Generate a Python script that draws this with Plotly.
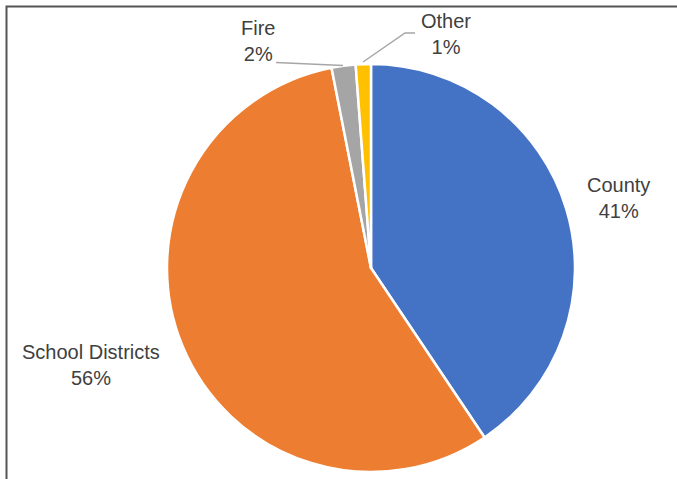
import plotly.graph_objects as go

labels = ["County", "School Districts", "Fire", "Other"]
values = [40.6, 56.3, 1.9, 1.2]
colors = ["#4472C4", "#ED7D31", "#A5A5A5", "#FFC000"]

W, H = 677, 479
total = sum(values)
pcts = [f"{round(v / total * 100)}%" for v in values]

fig = go.Figure(go.Pie(
    labels=labels, values=values, sort=False, direction="clockwise", rotation=0,
    marker=dict(colors=colors, line=dict(color="white", width=2.5)),
    textinfo="none", hoverinfo="label+percent",
    domain=dict(x=[(371 - 204) / W, (371 + 204) / W], y=[(479 - 472) / H, (479 - 64) / H]),
    showlegend=False,
))

# label positions in pixels (center of two-line label)
label_pos = {"County": (618, 198), "School Districts": (91, 365), "Fire": (258, 41), "Other": (446, 34)}
for lab, p in zip(labels, pcts):
    x, y = label_pos[lab]
    fig.add_annotation(x=x / W, y=1 - y / H, xref="paper", yref="paper",
                       text=f"{lab}<br>{p}", showarrow=False,
                       font=dict(family="Liberation Sans, Arial", size=20, color="#404040"),
                       align="center", xanchor="center", yanchor="middle")

def px(x, y):
    return f"{x / W},{1 - y / H}"

# leader lines
fig.add_shape(type="path", xref="paper", yref="paper",
              path=f"M{px(276, 62.5)} L{px(343, 65.5)}", line=dict(color="#A6A6A6", width=1.5))
fig.add_shape(type="path", xref="paper", yref="paper",
              path=f"M{px(363, 62)} L{px(405, 33)} L{px(415, 33)}", line=dict(color="#A6A6A6", width=1.5))

# chart frame
fig.add_shape(type="path", xref="paper", yref="paper",
              path=f"M{px(6.5, 490)} L{px(6.5, 6.5)} L{px(690, 6.5)}", line=dict(color="#555555", width=2))

fig.update_layout(width=W, height=H, margin=dict(l=0, r=0, t=0, b=0),
                  paper_bgcolor="white", plot_bgcolor="white")
fig.write_html("out.html")
